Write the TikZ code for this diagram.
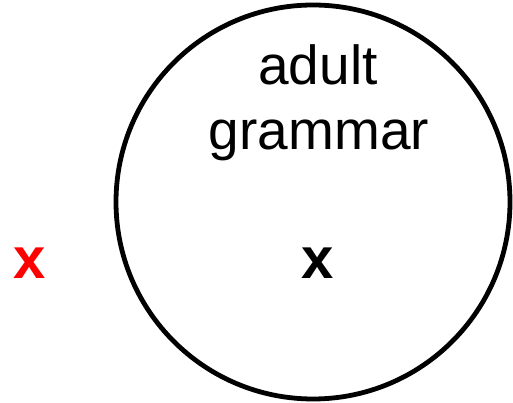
\documentclass[tikz,border=0pt]{standalone}
\usepackage{fontspec}
\setmainfont{Liberation Sans}
\begin{document}
\begin{tikzpicture}[x=1pt,y=1pt]
            \useasboundingbox (0,0) rectangle (513,403);
            \draw[line width=4.8pt] (313,201) circle (197);
            \node[anchor=base] (adult) at (318,318) {\fontsize{55}{66}\selectfont adult};
            \node[anchor=base] (grammar) at (319,253) {\fontsize{55}{66}\selectfont grammar};
            \node[anchor=base,red] (outx) at (30,124) {\fontsize{58}{66}\selectfont\bfseries x};
            \node[anchor=base] (inx) at (318,124) {\fontsize{58}{66}\selectfont\bfseries x};
        \end{tikzpicture}
\end{document}
